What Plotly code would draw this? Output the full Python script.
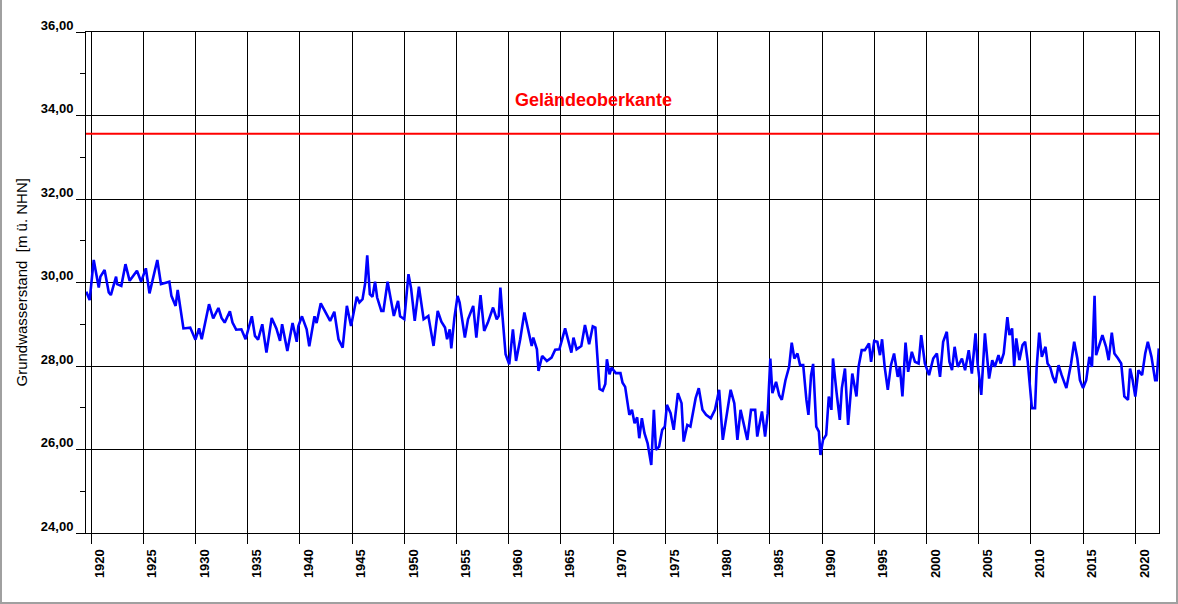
import plotly.graph_objects as go

# ---- data ----
years = [
    1919.55, 1919.87, 1920.26, 1920.74, 1920.9, 1921.3, 1921.7, 1921.9, 1922.4, 1922.5, 1922.9, 1923.3, 1923.7,
    1924.4, 1924.8, 1925.25, 1925.6, 1926.35, 1926.7, 1927.5, 1927.7, 1928.1, 1928.3, 1928.85, 1929.5, 1930.0,
    1930.35, 1930.6, 1931.3, 1931.7, 1932.2, 1932.5, 1932.8, 1933.3, 1933.55, 1933.9, 1934.4, 1934.8, 1935.4,
    1935.7, 1936.0, 1936.4, 1936.8, 1937.3, 1937.75, 1938.1, 1938.3, 1938.8, 1939.3, 1939.7, 1939.85, 1940.2,
    1940.65, 1940.9, 1941.4, 1941.6, 1942.0, 1942.55, 1942.9, 1943.3, 1943.7, 1944.1, 1944.5, 1944.9, 1945.45,
    1945.7, 1946.0, 1946.25, 1946.45, 1946.7, 1946.95, 1947.2, 1947.4, 1947.8, 1948.0, 1948.4, 1949.0, 1949.4,
    1949.6, 1950.0, 1950.4, 1950.65, 1951.0, 1951.4, 1951.85, 1952.3, 1952.8, 1953.2, 1953.55, 1953.9, 1954.1,
    1954.35, 1954.5, 1954.8, 1955.1, 1955.3, 1955.8, 1956.1, 1956.6, 1956.9, 1957.3, 1957.65, 1958.0, 1958.5,
    1958.85, 1959.05, 1959.2, 1959.4, 1959.7, 1960.05, 1960.4, 1960.7, 1961.1, 1961.5, 1961.8, 1962.2, 1962.35,
    1962.7, 1962.85, 1963.2, 1963.65, 1964.1, 1964.45, 1964.85, 1965.4, 1966.0, 1966.2, 1966.5, 1966.95, 1967.3,
    1967.7, 1968.05, 1968.3, 1968.7, 1969.0, 1969.25, 1969.4, 1969.65, 1969.85, 1970.25, 1970.7, 1970.9, 1971.15,
    1971.55, 1971.8, 1972.05, 1972.3, 1972.5, 1972.75, 1973.0, 1973.3, 1973.65, 1973.9, 1974.1, 1974.4, 1974.7,
    1974.95, 1975.15, 1975.5, 1975.8, 1976.2, 1976.55, 1976.75, 1977.1, 1977.4, 1977.9, 1978.2, 1978.55, 1978.9,
    1979.35, 1979.75, 1980.15, 1980.5, 1980.95, 1981.25, 1981.6, 1981.9, 1982.2, 1982.55, 1982.85, 1983.2, 1983.6,
    1983.8, 1984.25, 1984.55, 1984.8, 1985.05, 1985.25, 1985.6, 1985.9, 1986.15, 1986.5, 1986.85, 1987.1, 1987.35,
    1987.65, 1987.9, 1988.2, 1988.5, 1988.7, 1988.95, 1989.15, 1989.45, 1989.7, 1989.85, 1990.1, 1990.4, 1990.65,
    1990.9, 1991.05, 1991.4, 1991.7, 1991.9, 1992.2, 1992.5, 1992.9, 1993.3, 1993.5, 1993.8, 1994.1, 1994.5,
    1994.7, 1995.0, 1995.3, 1995.55, 1995.75, 1996.0, 1996.3, 1996.6, 1996.9, 1997.25, 1997.45, 1997.7, 1998.0,
    1998.25, 1998.6, 1998.9, 1999.25, 1999.5, 1999.85, 2000.25, 2000.65, 2001.0, 2001.3, 2001.6, 2001.95, 2002.2,
    2002.45, 2002.7, 2003.0, 2003.4, 2003.7, 2004.05, 2004.35, 2004.7, 2004.9, 2005.25, 2005.6, 2006.0, 2006.3,
    2006.55, 2006.9, 2007.1, 2007.4, 2007.75, 2007.95, 2008.2, 2008.4, 2008.6, 2008.9, 2009.2, 2009.45, 2009.7,
    2009.9, 2010.1, 2010.4, 2010.55, 2010.8, 2011.05, 2011.4, 2011.6, 2011.85, 2012.1, 2012.35, 2012.65, 2012.95,
    2013.4, 2013.85, 2014.15, 2014.45, 2014.7, 2015.0, 2015.3, 2015.6, 2015.85, 2016.1, 2016.25, 2016.55, 2016.85,
    2017.2, 2017.45, 2017.75, 2018.0, 2018.35, 2018.65, 2018.95, 2019.3, 2019.5, 2019.75, 2020.0, 2020.3, 2020.65,
    2020.95, 2021.2, 2021.55, 2021.9, 2022.05, 2022.25,
]
levels = [
    29.78, 29.58, 30.54, 29.88, 30.14, 30.30, 29.76, 29.70, 30.14, 29.96, 29.92, 30.44, 30.04,
    30.28, 30.02, 30.34, 29.74, 30.54, 29.96, 30.02, 29.68, 29.44, 29.82, 28.90, 28.92, 28.63,
    28.90, 28.64, 29.48, 29.14, 29.39, 29.15, 29.04, 29.31, 29.04, 28.87, 28.88, 28.64, 29.19,
    28.72, 28.63, 29.00, 28.32, 29.15, 28.90, 28.60, 29.00, 28.36, 29.03, 28.58, 28.95, 29.19,
    28.88, 28.47, 29.19, 29.03, 29.50, 29.24, 29.08, 29.30, 28.64, 28.44, 29.44, 28.96, 29.66,
    29.52, 29.60, 29.98, 30.65, 29.72, 29.66, 30.02, 29.64, 29.32, 29.32, 30.02, 29.20, 29.56,
    29.19, 29.12, 30.20, 29.86, 29.08, 29.90, 29.12, 29.20, 28.48, 29.32, 29.06, 28.92, 28.64,
    28.88, 28.42, 29.16, 29.68, 29.52, 28.68, 29.12, 29.44, 28.68, 29.70, 28.84, 29.04, 29.40,
    29.12, 29.20, 29.88, 29.20, 28.28, 28.04, 28.88, 28.12, 28.64, 29.28, 28.92, 28.48, 28.68,
    28.40, 27.88, 28.24, 28.12, 28.20, 28.39, 28.40, 28.90, 28.32, 28.68, 28.40, 28.48, 28.98,
    28.52, 28.95, 28.92, 27.45, 27.41, 27.57, 28.16, 27.80, 27.96, 27.83, 27.83, 27.60, 27.50,
    26.83, 26.95, 26.63, 26.77, 26.27, 26.75, 26.39, 26.15, 25.63, 26.95, 25.99, 26.07, 26.47,
    26.55, 27.07, 26.87, 26.47, 27.35, 27.11, 26.19, 26.59, 26.55, 27.23, 27.47, 26.95, 26.83,
    26.75, 26.95, 27.43, 26.23, 26.95, 27.43, 27.11, 26.23, 26.95, 26.55, 26.23, 26.95, 26.95,
    26.31, 26.91, 26.31, 26.87, 28.18, 27.35, 27.62, 27.30, 27.19, 27.66, 27.98, 28.56, 28.18,
    28.30, 28.02, 28.02, 27.20, 26.83, 27.78, 28.05, 26.55, 26.43, 25.87, 26.23, 26.35, 27.27,
    26.95, 28.18, 27.35, 26.71, 27.47, 27.94, 26.59, 27.82, 27.27, 27.98, 28.38, 28.38, 28.54,
    28.10, 28.60, 28.58, 28.26, 28.64, 27.98, 27.43, 28.02, 28.30, 27.74, 27.98, 27.27, 28.56,
    27.86, 28.34, 28.10, 28.06, 28.74, 28.06, 27.78, 28.18, 28.30, 27.74, 28.58, 28.82, 28.10,
    27.90, 28.46, 27.98, 28.18, 27.90, 28.38, 27.82, 28.78, 28.06, 27.31, 28.78, 27.70, 28.14,
    27.98, 28.26, 28.06, 28.30, 29.17, 28.74, 28.90, 28.00, 28.66, 28.14, 28.50, 28.58, 28.10,
    27.43, 26.99, 26.99, 27.94, 28.80, 28.22, 28.46, 28.06, 27.97, 27.74, 27.59, 28.02, 27.78,
    27.47, 28.06, 28.58, 28.18, 27.66, 27.47, 27.66, 28.22, 27.98, 29.68, 28.26, 28.50, 28.74,
    28.46, 28.14, 28.80, 28.30, 28.18, 28.06, 27.27, 27.19, 27.94, 27.66, 27.27, 27.90, 27.78,
    28.30, 28.58, 28.22, 27.66, 27.66, 28.42,
]
ground_level = 33.56
ground_label = "Geländeoberkante"
x_tick_years = list(range(1920, 2021, 5))
x_tick_labels = [str(y) for y in x_tick_years]
y_tick_values = list(range(24, 37, 2))
y_tick_labels = [f"{v:.2f}".replace(".", ",") for v in y_tick_values]
y_title = "Grundwasserstand\u00a0 [m ü. NHN]"

FONT = "Liberation Sans, Arial, sans-serif"
W, H = 1178, 604
L, R, T, B = 86, 19, 32, 71
PW, PH = W - L - R, H - T - B

fig = go.Figure()
fig.add_trace(go.Scatter(
    x=years, y=levels, mode="lines",
    line=dict(color="#0000FF", width=2.6),
    hoverinfo="skip", showlegend=False,
))

# ground level line
fig.add_shape(type="line", xref="paper", x0=0, x1=1, yref="y", y0=ground_level, y1=ground_level,
              line=dict(color="#FF0000", width=2), layer="above")
fig.add_annotation(x=1968.1, y=34.38, xref="x", yref="y", text=f"<b>{ground_label}</b>",
                   showarrow=False, font=dict(family=FONT, size=18, color="#FF0000"))

# y axis title
fig.add_annotation(x=(21 - L) / PW, y=0.5, xref="paper", yref="paper", text=y_title,
                   xanchor="center", yanchor="middle",
                   textangle=-90, showarrow=False, font=dict(family=FONT, size=15, color="black"))

# outer grey border
fig.add_shape(type="rect", xref="paper", yref="paper",
              x0=(-L + 1) / PW, x1=(W - L - 1) / PW, y0=(-B + 1) / PH, y1=(H - T - 1) / PH,
              line=dict(color="#A0A0A0", width=2), fillcolor="rgba(0,0,0,0)", layer="above")

fig.update_layout(
    width=W, height=H,
    margin=dict(l=L, r=R, t=T, b=B, pad=0),
    paper_bgcolor="white", plot_bgcolor="white",
    font=dict(family=FONT, color="black"),
    showlegend=False,
)
fig.update_xaxes(
    range=[1919.52, 2022.27],
    tickmode="array", tickvals=x_tick_years, ticktext=[f"<b>{t}</b>" for t in x_tick_labels],
    tickangle=-90, tickfont=dict(family=FONT, size=13, color="black"),
    ticks="outside", ticklen=10, tickwidth=1, tickcolor="black",
    ticklabelshift=9,
    showgrid=True, gridcolor="black", gridwidth=1,
    showline=True, linecolor="black", linewidth=1, mirror=True,
    zeroline=False,
)
fig.update_yaxes(
    range=[24, 36],
    tickmode="array", tickvals=y_tick_values, ticktext=[f"<b>{t}</b>" for t in y_tick_labels],
    tickfont=dict(family=FONT, size=13, color="black"),
    ticks="outside", ticklen=9, tickwidth=1, tickcolor="black",
    ticklabelshift=-7,
    minor=dict(tickmode="linear", tick0=24, dtick=1, ticks="outside", ticklen=5,
               tickcolor="black", showgrid=False),
    showgrid=True, gridcolor="black", gridwidth=1,
    showline=True, linecolor="black", linewidth=1, mirror=True,
    zeroline=False,
)

fig.write_html("out.html")
